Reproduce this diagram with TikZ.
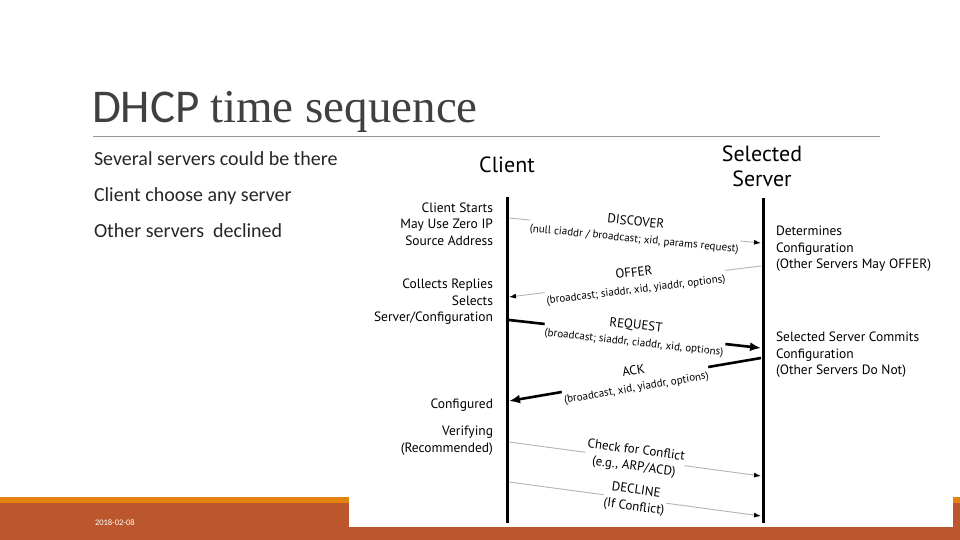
\documentclass[tikz,border=0pt]{standalone}
\usepackage{fontspec}
\setmainfont{Carlito}
\newfontfamily\seqfont{Liberation Serif}
\newfontfamily\diafont{PT Sans}
\usepackage{tikz}
\usetikzlibrary{arrows.meta,positioning}
\newcommand{\msgsub}[1]{{\fontsize{11}{14}\selectfont #1}}
\definecolor{rbrown}{RGB}{188,87,45}
\definecolor{rorange}{RGB}{228,131,18}
\definecolor{titlegray}{RGB}{64,64,64}
\definecolor{rulegray}{RGB}{150,150,150}
\definecolor{msggray}{RGB}{180,180,180}

\begin{document}
\begin{tikzpicture}[
  x=1pt, y=-1pt,
  every node/.style={inner sep=0pt, outer sep=0pt},
  bullet/.style   = {anchor=base west, font=\fontsize{20}{24}\selectfont, text=black!85},
  head/.style     = {font=\diafont\fontsize{22}{25}\selectfont, align=center},
  lefttxt/.style  = {anchor=east, align=right, font=\diafont\fontsize{13.5}{16.5}\selectfont},
  righttxt/.style = {anchor=west, align=left, font=\diafont\fontsize{13.5}{16.5}\selectfont},
  lifeline/.style = {line width=3pt},
  weakmsg/.style  = {draw=msggray, line width=0.9pt, -{Latex[length=7pt,width=5pt,color=black]}},
  strongmsg/.style= {line width=2.6pt, -{Latex[length=11pt,width=9pt]}},
  msglbl/.style   = {sloped, midway, fill=white, align=center, inner sep=1pt,
                     font=\diafont\fontsize{13}{16.5}\selectfont}
]
\useasboundingbox (0,0) rectangle (960,540);

% footer band
\fill[rorange] (0,497) rectangle (960,503);
\fill[rbrown] (0,503) rectangle (960,540);
\fill[white] (349,496) rectangle (953,527);
\node[anchor=base west, text=white, font=\fontsize{8.5}{10}\selectfont] (date) at (95,525) {2018-02-08};

% title and bullets
\node[anchor=base west, text=titlegray] (title) at (92,123)
  {\fontsize{47}{50}\selectfont DHCP {\seqfont time sequence}};
\draw[rulegray, line width=0.8pt] (93,136) -- (880,136);
\node[bullet] (b1) at (94,166) {Several servers could be there};
\node[bullet] (b2) at (94,201) {Client choose any server};
\node[bullet] (b3) at (94,237) {Other servers\ \ declined};

% lifelines
\node[head] (client) at (507,165) {Client};
\node[head] (server) at (762,166) {Selected\\Server};
\coordinate (cliTop) at (507,197);
\coordinate (cliBot) at (507,523);
\coordinate (srvTop) at (763,198);
\coordinate (srvBot) at (763,523);
\draw[lifeline] (cliTop) -- (cliBot);
\draw[lifeline] (srvTop) -- (srvBot);

% side notes
\node[lefttxt] (start) at (493,224) {Client Starts\\May Use Zero IP\\Source Address};
\node[lefttxt] (collect) at (493,302) {Collects Replies\\Selects\\Server/Configuration};
\node[lefttxt] (configured) at (493,405) {Configured};
\node[lefttxt] (verify) at (493,440.5) {Verifying\\(Recommended)};
\node[righttxt] (determine) at (776,249) {Determines\\Configuration\\(Other Servers May OFFER)};
\node[righttxt] (commit) at (776,355) {Selected Server Commits\\Configuration\\(Other Servers Do Not)};

% message end points
\coordinate (discA) at (509,218);   \coordinate (discB) at (761,243);
\coordinate (offA)  at (761,266);   \coordinate (offB)  at (509,297);
\coordinate (reqA)  at (509,320);   \coordinate (reqB)  at (761,348);
\coordinate (ackA)  at (761,358);   \coordinate (ackB)  at (509,401);
\coordinate (chkA)  at (509,442);   \coordinate (chkB)  at (761,476);
\coordinate (decA)  at (509,482);   \coordinate (decB)  at (761,516);

\draw[weakmsg] (discA) -- node[msglbl] (disc)
  {DISCOVER\\\msgsub{(null ciaddr / broadcast; xid, params request)}} (discB);
\draw[weakmsg] (offA) -- node[msglbl] (offer)
  {OFFER\\\msgsub{(broadcast; siaddr, xid, yiaddr, options)}} (offB);
\draw[strongmsg] (reqA) -- node[msglbl] (request)
  {REQUEST\\\msgsub{(broadcast; siaddr, ciaddr, xid, options)}} (reqB);
\draw[strongmsg] (ackA) -- node[msglbl] (ack)
  {ACK\\\msgsub{(broadcast, xid, yiaddr, options)}} (ackB);
\draw[weakmsg] (chkA) -- node[msglbl] (check)
  {Check for Conflict\\(e.g., ARP/ACD)} (chkB);
\draw[weakmsg] (decA) -- node[msglbl] (decline)
  {DECLINE\\(If Conflict)} (decB);
\end{tikzpicture}
\end{document}
